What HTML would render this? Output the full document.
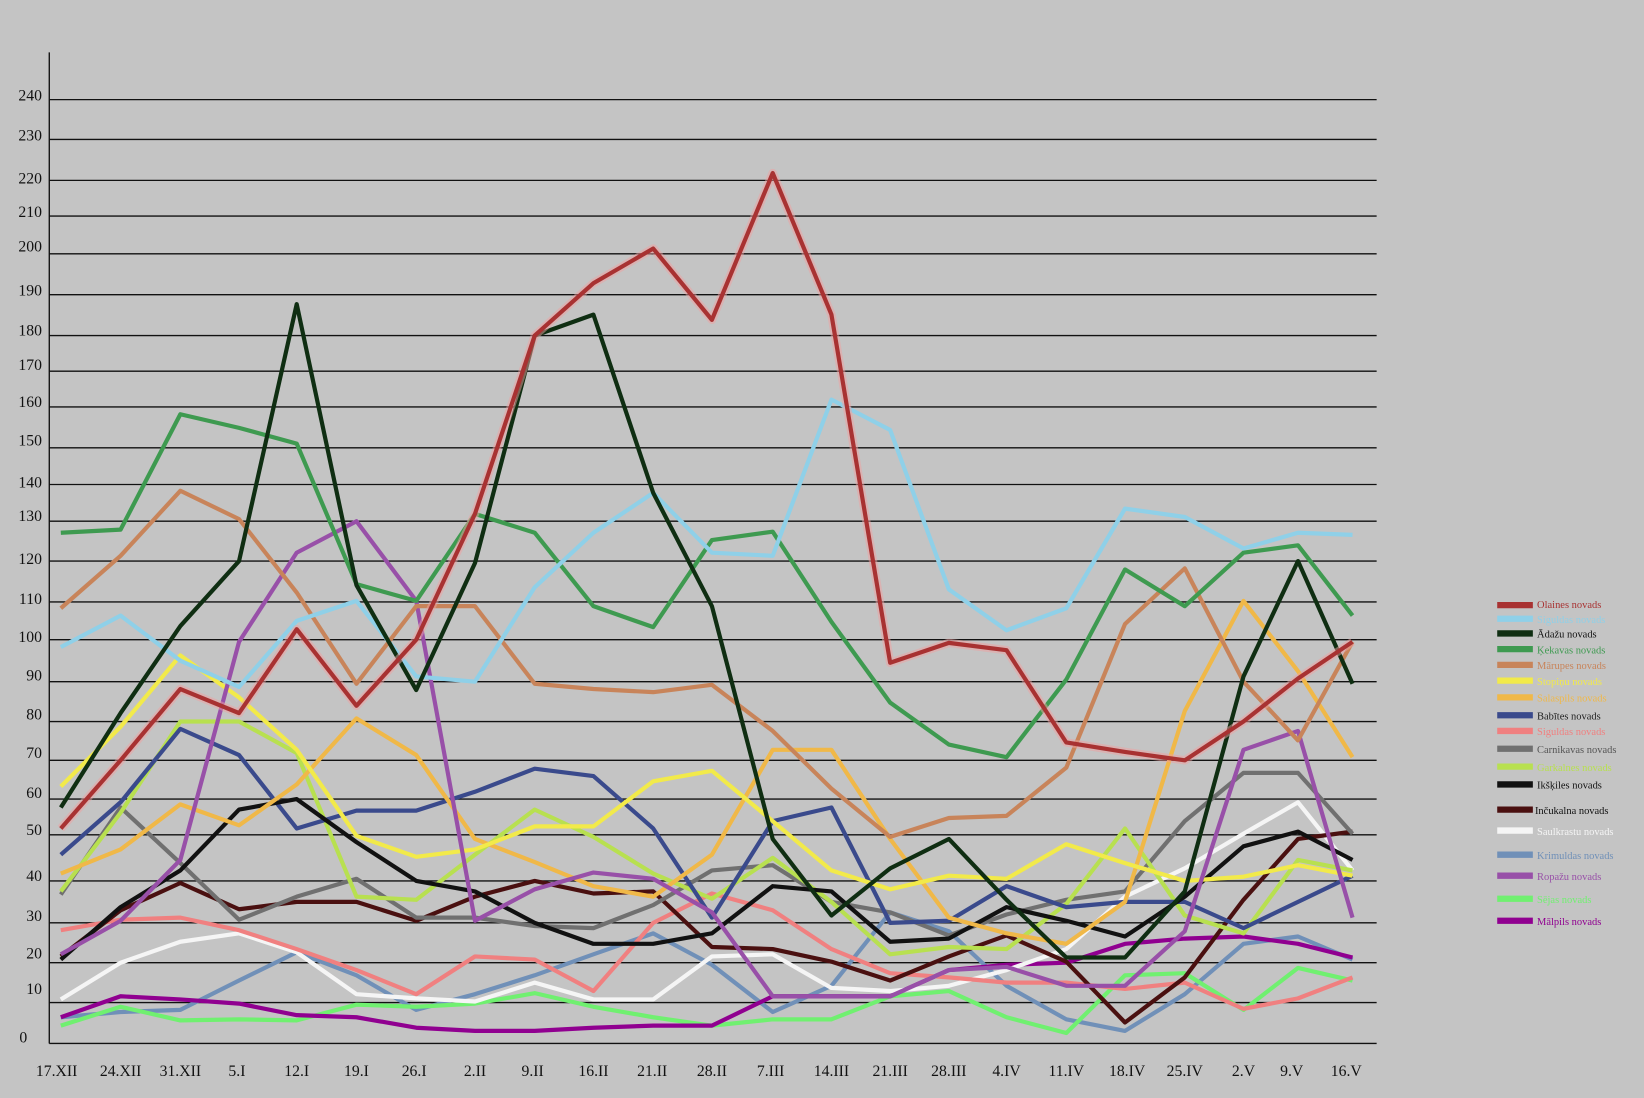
<!DOCTYPE html>
<html><head><meta charset="utf-8"><style>
html,body{margin:0;padding:0;background:#c4c4c4;}
svg{display:block}
text{font-family:"Liberation Serif",serif;}
</style></head><body>
<svg width="1644" height="1098" viewBox="0 0 1568 1047" preserveAspectRatio="none" xmlns="http://www.w3.org/2000/svg">
<rect width="1568" height="1047" fill="#c4c4c4"/>
<g stroke="#111" stroke-width="1.3">
<line x1="47" x2="1313" y1="95" y2="95"/><line x1="47" x2="1313" y1="133" y2="133"/>
<line x1="47" x2="1313" y1="172" y2="172"/><line x1="47" x2="1313" y1="206" y2="206"/>
<line x1="47" x2="1313" y1="242" y2="242"/><line x1="47" x2="1313" y1="281" y2="281"/>
<line x1="47" x2="1313" y1="320" y2="320"/><line x1="47" x2="1313" y1="354" y2="354"/>
<line x1="47" x2="1313" y1="388" y2="388"/><line x1="47" x2="1313" y1="427" y2="427"/>
<line x1="47" x2="1313" y1="462" y2="462"/><line x1="47" x2="1313" y1="497" y2="497"/>
<line x1="47" x2="1313" y1="535" y2="535"/><line x1="47" x2="1313" y1="574" y2="574"/>
<line x1="47" x2="1313" y1="610" y2="610"/><line x1="47" x2="1313" y1="650" y2="650"/>
<line x1="47" x2="1313" y1="688" y2="688"/><line x1="47" x2="1313" y1="725" y2="725"/>
<line x1="47" x2="1313" y1="762" y2="762"/><line x1="47" x2="1313" y1="796" y2="796"/>
<line x1="47" x2="1313" y1="840" y2="840"/><line x1="47" x2="1313" y1="880" y2="880"/>
<line x1="47" x2="1313" y1="918" y2="918"/><line x1="47" x2="1313" y1="956" y2="956"/>
<line x1="47" x2="1313" y1="995" y2="995"/>
<line x1="47" x2="47" y1="50" y2="995"/>
</g>
<g font-size="15" fill="#111" text-anchor="end">
<text x="40" y="96">240</text><text x="40" y="134">230</text><text x="40" y="175">220</text><text x="40" y="207">210</text><text x="40" y="240">200</text><text x="40" y="282">190</text><text x="40" y="320">180</text><text x="40" y="353">170</text><text x="40" y="388">160</text><text x="40" y="425">150</text><text x="40" y="465">140</text><text x="40" y="497">130</text><text x="40" y="538">120</text><text x="40" y="576">110</text><text x="40" y="612">100</text><text x="40" y="649">90</text><text x="40" y="686">80</text><text x="40" y="723">70</text><text x="40" y="761">60</text><text x="40" y="796">50</text><text x="40" y="840">40</text><text x="40" y="878">30</text><text x="40" y="914">20</text><text x="40" y="948">10</text><text x="26" y="994">0</text>
</g>
<g font-size="15" fill="#111" text-anchor="middle">
<text x="54" y="1026">17.XII</text><text x="115" y="1026">24.XII</text><text x="172" y="1026">31.XII</text><text x="226" y="1026">5.I</text><text x="283" y="1026">12.I</text><text x="340" y="1026">19.I</text><text x="395" y="1026">26.I</text><text x="453" y="1026">2.II</text><text x="508" y="1026">9.II</text><text x="566" y="1026">16.II</text><text x="622" y="1026">21.II</text><text x="679" y="1026">28.II</text><text x="735" y="1026">7.III</text><text x="793" y="1026">14.III</text><text x="849" y="1026">21.III</text><text x="905" y="1026">28.III</text><text x="960" y="1026">4.IV</text><text x="1017" y="1026">11.IV</text><text x="1075" y="1026">18.IV</text><text x="1130" y="1026">25.IV</text><text x="1186" y="1026">2.V</text><text x="1232" y="1026">9.V</text><text x="1284" y="1026">16.V</text>
</g>
<g fill="none" stroke-width="4" stroke-linejoin="round">
<polyline stroke="#7090b8" points="58,970 115,965 172,963 228,935 283,908 340,930 397,963 453,948 510,930 566,910 623,890 679,920 737,965 793,940 849,870 905,888 960,940 1017,972 1073,983 1130,948 1186,900 1238,893 1290,915"/>
<polyline stroke="#70f070" points="58,978 115,960 172,973 228,972 283,973 340,958 397,960 453,957 510,947 566,960 623,970 679,978 737,972 793,972 849,950 905,945 960,970 1017,985 1073,930 1130,928 1186,963 1238,923 1290,935"/>
<polyline stroke="#900090" points="58,970 115,950 172,953 228,957 283,968 340,970 397,980 453,983 510,983 566,980 623,978 679,978 737,950 793,950 849,950 905,925 960,920 1017,918 1073,900 1130,895 1186,893 1238,900 1290,913"/>
<polyline stroke="#f5f5f5" points="58,953 115,918 172,898 228,890 283,908 340,948 397,952 453,955 510,937 566,953 623,953 679,912 737,910 793,942 849,945 905,940 960,925 1017,905 1073,855 1130,828 1186,795 1238,765 1290,830"/>
<polyline stroke="#f08080" points="58,887 115,877 172,875 228,887 283,905 340,925 397,948 453,912 510,915 566,945 623,880 679,852 737,868 793,905 849,928 905,932 960,937 1017,937 1073,943 1130,937 1186,962 1238,952 1290,932"/>
<polyline stroke="#4a1010" points="58,912 115,868 172,842 228,867 283,860 340,860 397,878 453,855 510,840 566,852 623,850 679,903 737,905 793,917 849,935 905,912 960,892 1017,917 1073,975 1130,932 1186,858 1238,800 1290,793"/>
<polyline stroke="#707070" points="58,853 115,770 172,823 228,877 283,855 340,838 397,875 453,875 510,883 566,885 623,863 679,830 737,825 793,860 849,870 905,892 960,872 1017,858 1073,850 1130,783 1186,737 1238,737 1290,795"/>
<polyline stroke="#b8e050" points="58,850 115,775 172,688 228,688 283,718 340,855 397,858 453,815 510,772 566,798 623,833 679,857 737,818 793,860 849,910 905,903 960,905 1017,862 1073,790 1130,873 1186,890 1238,820 1290,830"/>
<polyline stroke="#3a4a8c" points="58,815 115,765 172,695 228,720 283,790 340,773 397,773 453,755 510,733 566,740 623,790 679,875 737,783 793,770 849,880 905,878 960,845 1017,865 1073,860 1130,860 1186,885 1238,860 1290,835"/>
<polyline stroke="#111" points="58,915 115,865 172,830 228,772 283,762 340,803 397,840 453,850 510,880 566,900 623,900 679,890 737,845 793,850 849,898 905,895 960,865 1017,878 1073,893 1130,855 1186,807 1238,793 1290,820"/>
<polyline stroke="#f0b848" points="58,833 115,810 172,767 228,787 283,748 340,685 397,720 453,800 510,822 566,845 623,855 679,815 737,715 793,715 849,800 905,875 960,890 1017,900 1073,860 1130,678 1186,573 1238,640 1290,722"/>
<polyline stroke="#f2ea4a" points="58,750 115,693 172,625 228,665 283,715 340,797 397,817 453,810 510,788 566,788 623,745 679,735 737,783 793,830 849,848 905,835 960,838 1017,805 1073,823 1130,840 1186,836 1238,825 1290,835"/>
<polyline stroke="#9850a8" points="58,910 115,878 172,820 228,612 283,527 340,497 397,573 453,878 510,848 566,832 623,838 679,870 737,950 793,950 849,950 905,925 960,922 1017,940 1073,940 1130,888 1186,715 1238,697 1290,875"/>
<polyline stroke="#c8845a" points="58,580 115,530 172,468 228,495 283,565 340,652 397,578 453,578 510,652 566,657 623,660 679,653 737,697 793,752 849,798 905,780 960,778 1017,732 1073,595 1130,542 1186,650 1238,706 1290,612"/>
<polyline stroke="#3e9a50" points="58,508 115,505 172,395 228,408 283,423 340,557 397,573 453,490 510,508 566,578 623,598 679,515 737,507 793,593 849,670 905,710 960,722 1017,648 1073,543 1130,578 1186,527 1238,520 1290,587"/>
<polyline stroke="#8fd0e8" points="58,617 115,587 172,630 228,655 283,592 340,573 397,645 453,650 510,560 566,508 623,470 679,527 737,530 793,381 849,410 905,562 960,601 1017,580 1073,485 1130,493 1186,523 1238,508 1290,510"/>
<polyline stroke="#0f2e12" points="58,770 115,680 172,597 228,535 283,290 340,558 397,658 453,537 510,320 566,300 623,470 679,578 737,800 793,873 849,828 905,800 960,858 1017,913 1073,913 1130,850 1186,645 1238,535 1290,652"/>
<polyline stroke="#f0a0a0" stroke-width="8" opacity="0.5" points="58,790 115,725 172,657 228,680 283,600 340,673 397,610 453,490 510,320 566,270 623,237 679,305 737,165 793,300 849,632 905,613 960,620 1017,708 1073,717 1130,725 1186,688 1238,647 1290,612"/>
<polyline stroke="#a83232" points="58,790 115,725 172,657 228,680 283,600 340,673 397,610 453,490 510,320 566,270 623,237 679,305 737,165 793,300 849,632 905,613 960,620 1017,708 1073,717 1130,725 1186,688 1238,647 1290,612"/>
</g>
<g stroke-width="6">
<line x1="1428" x2="1462" y1="577" y2="577" stroke="#a83232"/>
<line x1="1428" x2="1462" y1="590" y2="590" stroke="#8fd0e8"/>
<line x1="1428" x2="1462" y1="604" y2="604" stroke="#0f2e12"/>
<line x1="1428" x2="1462" y1="619" y2="619" stroke="#3e9a50"/>
<line x1="1428" x2="1462" y1="634" y2="634" stroke="#c8845a"/>
<line x1="1428" x2="1462" y1="649" y2="649" stroke="#f2ea4a"/>
<line x1="1428" x2="1462" y1="665" y2="665" stroke="#f0b848"/>
<line x1="1428" x2="1462" y1="682" y2="682" stroke="#3a4a8c"/>
<line x1="1428" x2="1462" y1="697" y2="697" stroke="#f08080"/>
<line x1="1428" x2="1462" y1="714" y2="714" stroke="#707070"/>
<line x1="1428" x2="1462" y1="731" y2="731" stroke="#b8e050"/>
<line x1="1428" x2="1462" y1="748" y2="748" stroke="#111"/>
<line x1="1428" x2="1462" y1="772" y2="772" stroke="#4a1010"/>
<line x1="1428" x2="1462" y1="792" y2="792" stroke="#f5f5f5"/>
<line x1="1428" x2="1462" y1="815" y2="815" stroke="#7090b8"/>
<line x1="1428" x2="1462" y1="835" y2="835" stroke="#9850a8"/>
<line x1="1428" x2="1462" y1="857" y2="857" stroke="#70f070"/>
<line x1="1428" x2="1462" y1="878" y2="878" stroke="#900090"/>
</g>
<g font-size="10" style="font-family:'Liberation Sans',sans-serif">
<text x="1466" y="580" fill="#a83232">Olaines novads</text>
<text x="1466" y="594" fill="#8fd0e8">Siguldas novads</text>
<text x="1466" y="608" fill="#111">Ādažu novads</text>
<text x="1466" y="623" fill="#3e9a50">Ķekavas novads</text>
<text x="1466" y="638" fill="#c8845a">Mārupes novads</text>
<text x="1466" y="653" fill="#f2ea4a">Stopiņu novads</text>
<text x="1466" y="669" fill="#f0b848">Salaspils novads</text>
<text x="1466" y="686" fill="#222">Babītes novads</text>
<text x="1466" y="701" fill="#f08080">Siguldas novads</text>
<text x="1466" y="718" fill="#555">Carnikavas novads</text>
<text x="1466" y="735" fill="#b8e050">Garkalnes novads</text>
<text x="1466" y="752" fill="#111">Ikšķiles novads</text>
<text x="1464" y="776" fill="#111">Inčukalna novads</text>
<text x="1466" y="796" fill="#f5f5f5">Saulkrastu novads</text>
<text x="1466" y="819" fill="#7090b8">Krimuldas novads</text>
<text x="1466" y="839" fill="#9850a8">Ropažu novads</text>
<text x="1466" y="861" fill="#70f070">Sējas novads</text>
<text x="1466" y="882" fill="#900090">Mālpils novads</text>
</g>
</svg>
</body></html>
